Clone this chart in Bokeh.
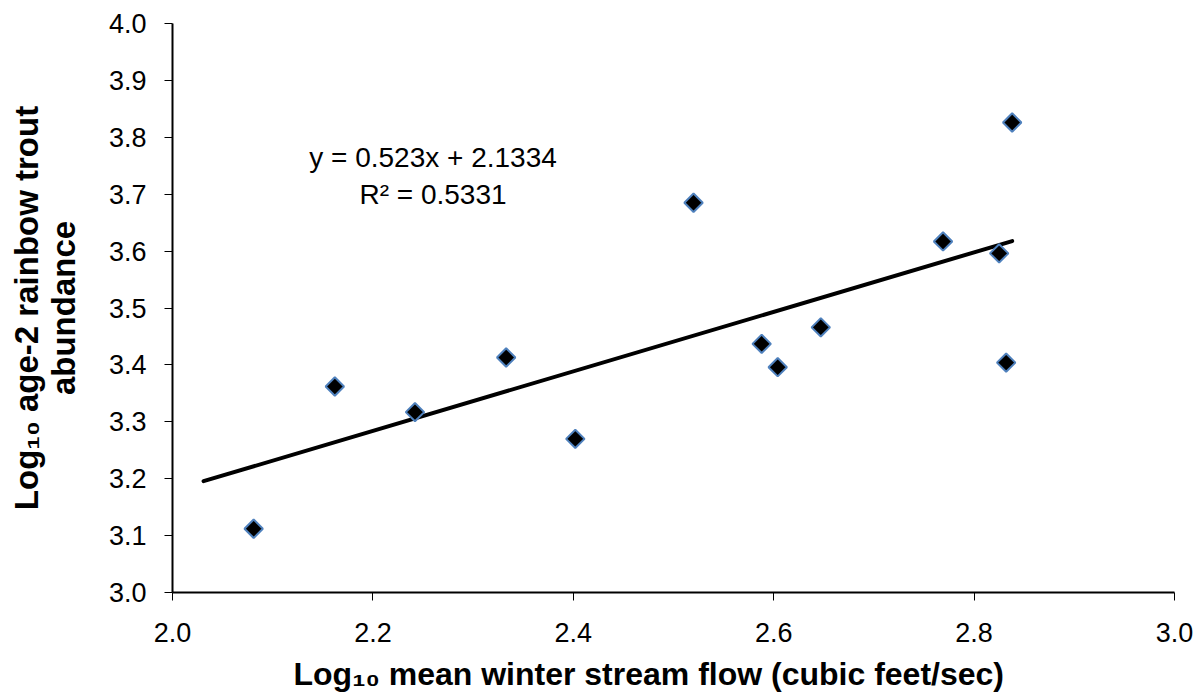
from bokeh.plotting import figure
from bokeh.models import SingleIntervalTicker, PrintfTickFormatter, Range1d, ColumnDataSource, Title
from bokeh.core.properties import value
from bokeh.embed import file_html
from bokeh.resources import INLINE
import numpy as np

# Data
flow_log = [2.081, 2.162, 2.242, 2.333, 2.402, 2.520, 2.588, 2.604, 2.647, 2.769, 2.825, 2.832, 2.838]
abund_log = [3.112, 3.362, 3.317, 3.413, 3.270, 3.685, 3.437, 3.396, 3.466, 3.617, 3.596, 3.404, 3.826]

slope = 0.523
intercept = 2.1334
r_squared = 0.5331
backward_forecast = 0.05

eq_lines = ["y = 0.523x + 2.1334", "R\u00b2 = 0.5331"]
eq_x = [2.26, 2.26]
eq_y = [3.764, 3.700]

x_title = "Log\u2081\u2080 mean winter stream flow (cubic feet/sec)"
y_title = "Log\u2081\u2080 age-2 rainbow trout\nabundance"

FONT = "Liberation Sans"

p = figure(width=1201, height=700, output_backend="svg", toolbar_location=None,
           x_range=Range1d(2.0, 3.0), y_range=Range1d(3.0, 4.0),
           min_border_left=172, min_border_right=27, min_border_top=23, min_border_bottom=108)
p.outline_line_color = None
p.xgrid.visible = False
p.ygrid.visible = False
p.background_fill_color = "white"
p.border_fill_color = "white"

for ax, interval in ((p.xaxis[0], 0.2), (p.yaxis[0], 0.1)):
    ax.ticker = SingleIntervalTicker(interval=interval)
    ax.formatter = PrintfTickFormatter(format="%.1f")
    ax.minor_tick_line_color = None
    ax.major_tick_in = 0
    ax.major_tick_out = 8
    ax.major_tick_line_width = 1
    ax.axis_line_width = 2
    ax.axis_line_color = "black"
    ax.major_tick_line_color = "black"
    ax.major_label_text_font = FONT
    ax.major_label_text_font_size = "27px"
    ax.major_label_text_color = "black"
    ax.axis_label_text_font = FONT
    ax.axis_label_text_font_style = "bold"
    ax.axis_label_text_color = "black"

p.xaxis[0].major_label_standoff = 22
p.yaxis[0].axis_label = y_title
p.yaxis[0].axis_label_text_font_size = "33px"
p.yaxis[0].axis_label_text_line_height = 1.0
p.yaxis[0].major_label_standoff = 18
p.yaxis[0].axis_label_standoff = 24

p.add_layout(Title(text=x_title, align="left", offset=121, standoff=18, vertical_align="bottom",
                   text_font=FONT, text_font_size="32px", text_font_style="bold",
                   text_color="black"), "below")

# Trendline from the stated fit
x0 = min(flow_log) - backward_forecast
x1 = max(flow_log)
tx = [x0, x1]
ty = [slope * v + intercept for v in tx]
p.line(tx, ty, line_color="black", line_width=4, line_cap="round")

src = ColumnDataSource(dict(x=flow_log, y=abund_log))
p.scatter("x", "y", source=src, marker="square", angle=np.pi / 4, size=13,
          fill_color="black", line_color="#4F81BD", line_width=2)

p.text(x=eq_x, y=eq_y, text=eq_lines, text_font=value(FONT), text_font_size="28px",
       text_align="center", text_baseline="middle", text_color="black")

open("out.html", "w").write(file_html(p, INLINE))
